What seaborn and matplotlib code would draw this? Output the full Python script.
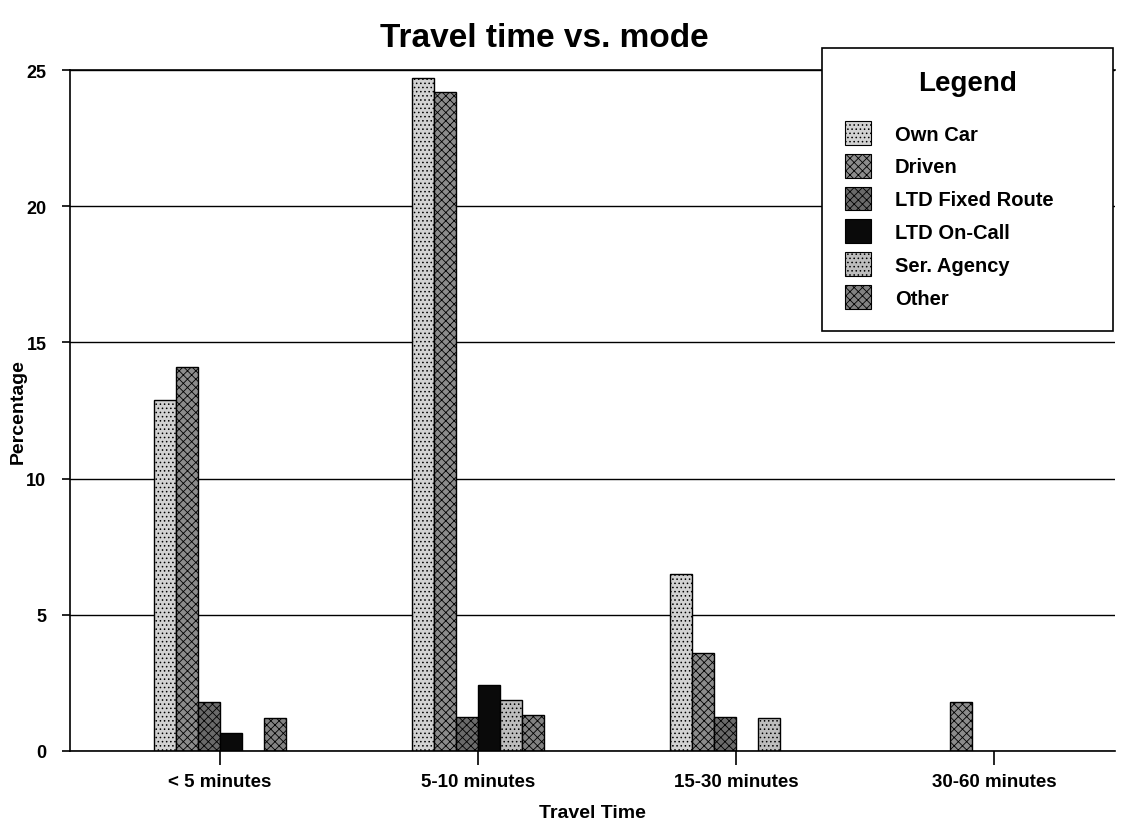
import matplotlib
matplotlib.use("Agg")
import matplotlib.pyplot as plt
import seaborn as sns
import pandas as pd
from matplotlib.patches import Patch

categories = ["< 5 minutes", "5-10 minutes", "15-30 minutes", "30-60 minutes"]
modes = ["Own Car", "Driven", "LTD Fixed Route", "LTD On-Call", "Ser. Agency", "Other"]
own_car = [12.9, 24.7, 6.5, 0.0]
driven = [14.1, 24.2, 3.6, 1.8]
ltd_fixed = [1.8, 1.25, 1.25, 0.0]
ltd_oncall = [0.65, 2.4, 0.0, 0.0]
ser_agency = [0.0, 1.85, 1.2, 0.0]
other = [1.2, 1.3, 0.0, 0.0]
yticks = [0, 5, 10, 15, 20, 25]

series = [own_car, driven, ltd_fixed, ltd_oncall, ser_agency, other]
rows = []
for m, vals in zip(modes, series):
    for c, v in zip(categories, vals):
        rows.append({"Travel Time": c, "Mode": m, "Percentage": v})
df = pd.DataFrame(rows)

sns.set_theme(style="white")
plt.rcParams["font.family"] = ["Liberation Sans", "DejaVu Sans"]
plt.rcParams["hatch.linewidth"] = 0.6
plt.rcParams["text.color"] = "black"
plt.rcParams["axes.labelcolor"] = "black"
plt.rcParams["xtick.color"] = "black"
plt.rcParams["ytick.color"] = "black"

palette = {
    "Own Car": "#d2d2d2",
    "Driven": "#8c8c8c",
    "LTD Fixed Route": "#6a6a6a",
    "LTD On-Call": "#0a0a0a",
    "Ser. Agency": "#bdbdbd",
    "Other": "#828282",
}
hatches = {
    "Own Car": "....",
    "Driven": "xxxx",
    "LTD Fixed Route": "xxxx",
    "LTD On-Call": "",
    "Ser. Agency": "....",
    "Other": "xxxx",
}

fig = plt.figure(figsize=(11.22, 8.28), dpi=100)
ax = fig.add_axes([0.0624, 0.092, 0.9316, 0.822])

sns.barplot(data=df, x="Travel Time", y="Percentage", hue="Mode",
            order=categories, hue_order=modes, palette=palette,
            width=0.51, gap=0, edgecolor="black", linewidth=1.0,
            saturation=1, ax=ax, legend=False)

for container, m in zip(ax.containers, modes):
    for p in container.patches:
        if p.get_height() <= 0:
            p.set_visible(False)
        else:
            p.set_hatch(hatches[m])

ax.set_ylim(0, 25)
ax.set_xlim(-0.58, 3.47)
ax.set_yticks(yticks)
ax.set_yticklabels([str(t) for t in yticks], fontsize=13, fontweight="bold")
ax.set_xticklabels(categories, fontsize=13.5, fontweight="bold")
ax.yaxis.grid(True, color="black", linewidth=1.0)
ax.set_axisbelow(True)
ax.spines["right"].set_visible(False)
for s in ["left", "bottom", "top"]:
    ax.spines[s].set_color("black")
    ax.spines[s].set_linewidth(1.2)
ax.tick_params(axis="x", direction="out", length=10, width=1.2,
               color="black", bottom=True, pad=6)
ax.tick_params(axis="y", direction="out", length=6, width=1.2,
               color="black", left=True, pad=11)
ax.set_xlabel("Travel Time", fontsize=14, fontweight="bold", labelpad=10)
ax.set_ylabel("Percentage", fontsize=14, fontweight="bold", labelpad=0)
fig.text(0.485, 0.954, "Travel time vs. mode", fontsize=24, ha="center",
         va="center", fontweight="bold")

handles = [Patch(facecolor=palette[m], edgecolor="black", hatch=hatches[m],
                 linewidth=0.8) for m in modes]
leg = fig.legend(handles, modes, loc="upper left",
                 bbox_to_anchor=(0.733, 0.611, 0.259, 0.330), mode="expand",
                 title="Legend", fontsize=14.5, title_fontsize=20,
                 frameon=True, fancybox=False, framealpha=1,
                 edgecolor="black", handlelength=1.3, handleheight=1.45,
                 labelspacing=0.44, handletextpad=1.2, borderpad=1.1,
                 borderaxespad=0)
leg.get_title().set_fontweight("bold")
for t in leg.get_texts():
    t.set_fontweight("bold")
leg.get_frame().set_linewidth(1.2)
leg._legend_box.align = "center"
leg._legend_box.sep = 18

fig.savefig("out.png", dpi=100)
